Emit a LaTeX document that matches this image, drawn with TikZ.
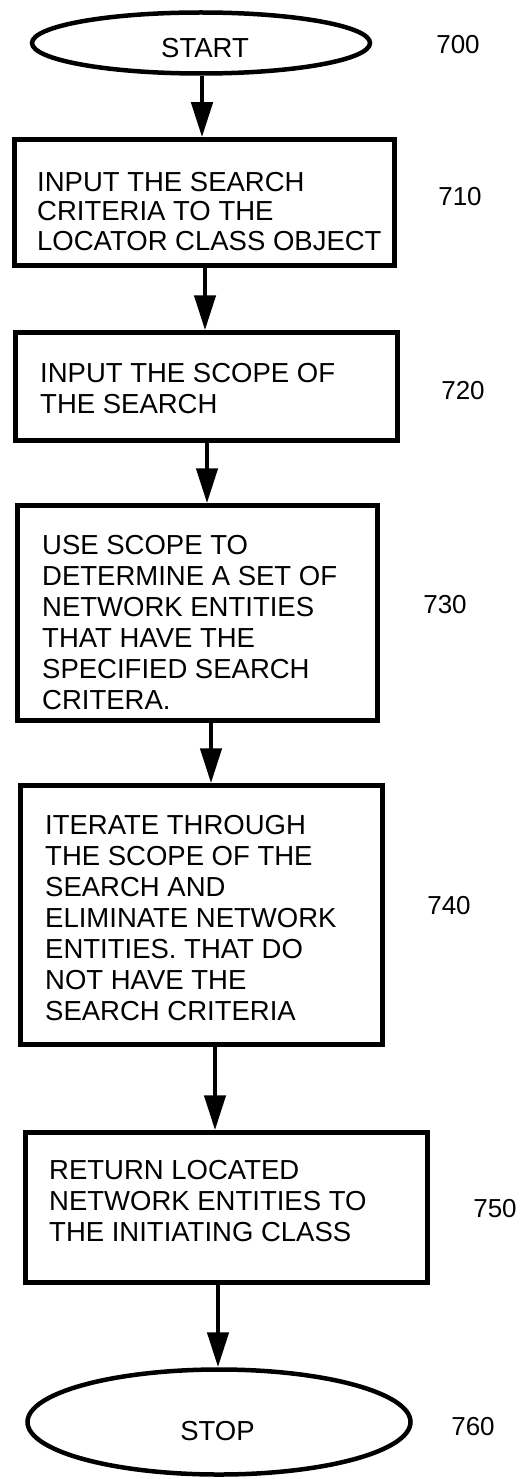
\documentclass[tikz,border=0pt]{standalone}
\usepackage{fontspec}
\setmainfont{Liberation Sans}
\usetikzlibrary{shapes.geometric,arrows.meta}
\begin{document}
\begin{tikzpicture}[x=1pt,y=-1pt,
  every node/.style={inner sep=0pt},
  term/.style={draw,ellipse,line width=4.5pt,inner sep=0pt},
  stepbox/.style={draw,rectangle,line width=4.5pt},
  txt/.style={anchor=north west,align=left,font=\fontsize{27.5}{31}\selectfont},
  lbl/.style={font=\fontsize{27.5}{31}\selectfont},
  ref/.style={font=\fontsize{26}{30}\selectfont},
  arr/.style={line width=4.5pt,-{Triangle[length=35pt,width=21pt]}}
]
\useasboundingbox (0,0) rectangle (525,1479);

% terminals
\node[term,minimum width=338pt,minimum height=61pt] (start) at (201,43) {};
\node[lbl] (starttxt) at (205,48.5) {START};
\node[term,minimum width=383pt,minimum height=105pt] (stop) at (219,1422) {};
\node[lbl] (stoptxt) at (217.5,1431) {STOP};

% boxes
\node[stepbox,minimum width=380pt,minimum height=126pt] (b710) at (204.5,202.5) {};
\node[stepbox,minimum width=382pt,minimum height=108pt] (b720) at (206.5,386.5) {};
\node[stepbox,minimum width=360pt,minimum height=215pt] (b730) at (197.5,613) {};
\node[stepbox,minimum width=362pt,minimum height=259pt] (b740) at (201.5,915) {};
\node[stepbox,minimum width=402pt,minimum height=150pt] (b750) at (226.5,1207.5) {};

% box texts
\node[txt,font=\fontsize{27.5}{29.5}\selectfont] (t710) at (37,172) {INPUT THE SEARCH\\CRITERIA TO THE\\LOCATOR CLASS OBJECT};
\node[txt] (t720) at (40,363) {INPUT THE SCOPE OF\\THE SEARCH};
\node[txt] (t730) at (42,535) {USE SCOPE TO\\DETERMINE A SET OF\\NETWORK ENTITIES\\THAT HAVE THE\\SPECIFIED SEARCH\\CRITERA.};
\node[txt] (t740) at (45,815) {ITERATE THROUGH\\THE SCOPE OF THE\\SEARCH AND\\ELIMINATE NETWORK\\ENTITIES. THAT DO\\NOT HAVE THE\\SEARCH CRITERIA};
\node[txt] (t750) at (49,1160) {RETURN LOCATED\\NETWORK ENTITIES TO\\THE INITIATING CLASS};

% reference numbers
\node[ref] (r700) at (458,45) {700};
\node[ref] (r710) at (460,197) {710};
\node[ref] (r720) at (463,391) {720};
\node[ref] (r730) at (445,605) {730};
\node[ref] (r740) at (449,906) {740};
\node[ref] (r750) at (495,1209) {750};
\node[ref] (r760) at (473,1427) {760};

% connectors
\draw[arr] (start.south -| 202,0) -- (b710.north -| 202,0);
\draw[arr] (b710.south -| 205,0) -- (b720.north -| 205,0);
\draw[arr] (b720.south -| 207,0) -- (b730.north -| 207,0);
\draw[arr] (b730.south -| 211,0) -- (b740.north -| 211,0);
\draw[arr] (b740.south -| 215,0) -- (b750.north -| 215,0);
\draw[arr] (b750.south -| 218,0) -- (stop.north -| 218,0);
\end{tikzpicture}
\end{document}
